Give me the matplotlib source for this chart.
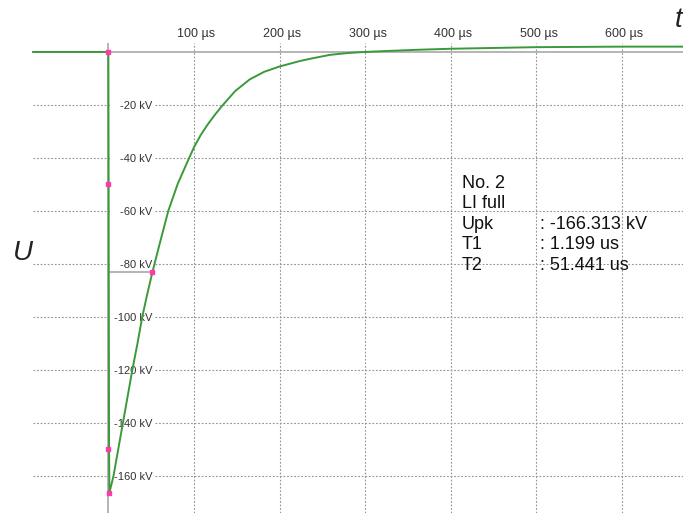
import matplotlib.pyplot as plt

plt.rcParams['font.family'] = ['Liberation Sans', 'DejaVu Sans']

# impulse record, time in microseconds, voltage in kV
t_us = [-88, 0, 0.3, 0.8, 1.2, 3, 6, 11, 17, 22, 28, 34, 39.6, 45, 51.4, 60,
        70, 81, 93, 100, 108, 116, 124, 133, 148, 165, 182, 200, 224, 240,
        259, 280, 300, 329, 360, 400, 450, 500, 550, 600, 672]
u_kv = [0, 0, -50, -149.7, -166.3, -164, -160, -150.9, -140, -130.9, -120,
        -110, -100, -92, -83.2, -72.3, -60, -49.8, -41.0, -36.0, -31.3, -27.4,
        -23.9, -20.3, -14.8, -10.4, -7.5, -5.5, -3.4, -2.3, -1.1, -0.4, 0,
        0.4, 0.8, 1.2, 1.5, 1.8, 1.9, 2.0, 2.0]

# evaluation points: start, 30 %, 90 %, peak, half value on the tail
mark_t = [0, 0, 0, 1.2, 51.441]
mark_u = [0, -49.9, -149.7, -166.313, -83.2]

time_ticks = [100, 200, 300, 400, 500, 600]
volt_ticks = [-20, -40, -60, -80, -100, -120, -140, -160]

info_left = ['No. 2', 'LI full', 'Upk', 'T1', 'T2']
info_right = ['', '', ': -166.313 kV', ': 1.199 us', ': 51.441 us']

fig = plt.figure(figsize=(6.83, 5.13), dpi=100)
ax = fig.add_axes([0, 0, 1, 1])
ax.set_xlim(-126.6, 671.3)
ax.set_ylim(-174.0, 19.6)
ax.axis('off')

grid = dict(color='#959595', linewidth=0.8, linestyles=(0, (1.6, 1.6)), zorder=1)
for tv in time_ticks:
    ax.vlines(tv, -174, 3.4, **grid)
    ax.text(tv + 3, 5.7, f'{tv} \u00b5s', ha='center', va='baseline',
            fontsize=9, color='#333333')
for v in volt_ticks:
    ax.hlines(v, -88, 3, **grid)
    ax.hlines(v, 54, 672, **grid)
    ax.text(51.5, v - 1.4, f'{v} kV', ha='right', va='baseline',
            fontsize=8, color='#333333', zorder=2)

# zero line and reference lines
ax.hlines(0, -88, 672, color='#a8a8a8', linewidth=1.2, zorder=2)
ax.vlines(0, -174, 3.4, color='#a8a8a8', linewidth=1.2, zorder=2)
ax.hlines(mark_u[-1], 0, mark_t[-1], color='#a8a8a8', linewidth=1.2, zorder=2)

ax.plot(t_us, u_kv, color='#3a9a3a', linewidth=1.4, zorder=3)
ax.plot(mark_t, mark_u, linestyle='none', marker='s', markersize=3,
        color='#ff3aa8', zorder=4)

ax.text(-99.8, -75.8, 'U', fontsize=20, style='italic', ha='center',
        va='center', color='#222222')
ax.text(670.5, 9.5, 't', fontsize=20, style='italic', ha='right',
        va='baseline', color='#222222')

row_y = [-51.3, -59.0, -66.8, -74.5, -82.3]
for left, right, y in zip(info_left, info_right, row_y):
    ax.text(413, y, left, fontsize=13, va='baseline', color='#111111')
    ax.text(504.5, y, right, fontsize=13, va='baseline', color='#111111')

fig.savefig('out.png', dpi=100)
